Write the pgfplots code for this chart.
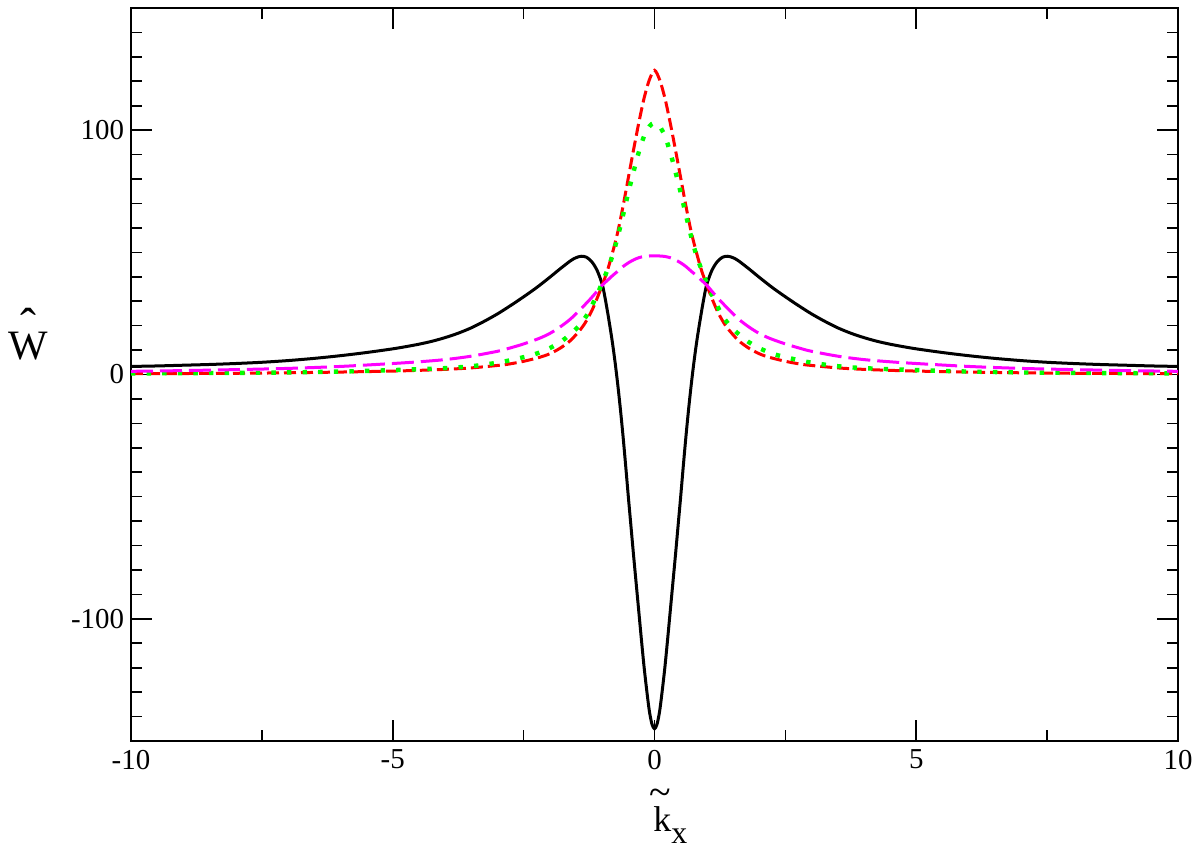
\documentclass[border=0pt]{standalone}
\usepackage{fontspec}
\setmainfont{Liberation Serif}
\usepackage{pgfplots}
\pgfplotsset{compat=1.18}
\definecolor{mag}{RGB}{255,0,255}
\definecolor{grn}{RGB}{0,255,0}
\definecolor{rd}{RGB}{255,0,0}
\begin{document}
\begin{tikzpicture}
\useasboundingbox (-65.5bp,-53.5bp) rectangle (534.5bp,370.5bp);
\begin{axis}[
  at={(0,0)}, anchor=south west,
  scale only axis, width=523.5bp, height=366.5bp,
  xmin=-10, xmax=10, ymin=-150, ymax=150,
  xtick={-10,-5,0,5,10}, xticklabels={-10,-5,0,5,10},
  ytick={-100,0,100}, yticklabels={-100,0,100},
  minor xtick={-7.5,-2.5,2.5,7.5},
  minor ytick={-140,-130,-120,-110,-90,-80,-70,-60,-50,-40,-30,-20,-10,10,20,30,40,50,60,70,80,90,110,120,130,140},
  tick align=inside,
  major tick length=10.5bp, minor tick length=5.3bp,
  every tick/.style={black, line width=0.8bp},
  axis line style={line width=1bp},
  tick label style={font=\fontsize{14.5}{17}\selectfont},
  xticklabel style={yshift=-1bp},
  every axis y label/.style={at={(axis description cs:-0.0984,0.5198)}, anchor=base, inner sep=0pt},
  every axis x label/.style={at={(axis description cs:0.4986,-0.1241)}, anchor=base west, inner sep=0pt},
  ylabel={\fontsize{21}{21}\selectfont\ooalign{\hidewidth\raisebox{9.3bp}{\fontsize{24}{24}\selectfont\symbol{"02C6}}\hidewidth\cr W\cr}},
  xlabel={\fontsize{18}{18}\selectfont\ooalign{\hidewidth\kern-2bp\raisebox{13.3bp}{\fontsize{20}{20}\selectfont\textasciitilde}\hidewidth\cr k\cr}\raisebox{-6bp}{\fontsize{16}{16}\selectfont x}},
  every axis plot/.append style={smooth, tension=0.5},
]
% black solid
\addplot[black, line width=1.5bp] coordinates {
(-10,3.3) (-9.5,3.5) (-9,3.8) (-8.5,4.1) (-8,4.5) (-7.5,5.0) (-7,5.7) (-6.5,6.6) (-6,7.7) (-5.5,9.0) (-5,10.5) (-4.75,11.4) (-4.5,12.4) (-4.25,13.6) (-4,15.1) (-3.75,16.9) (-3.5,19.1) (-3.25,21.8) (-3,24.8) (-2.75,28.2) (-2.5,31.8) (-2.25,35.6) (-2,39.8) (-1.8,43.3) (-1.6,46.6) (-1.5,47.8) (-1.4,48.4) (-1.3,48.0) (-1.2,46.2) (-1.1,42.8) (-1,37) (-0.95,32) (-0.9,26) (-0.85,19.5) (-0.8,12.5) (-0.75,4.5) (-0.7,-4.5) (-0.65,-14.5) (-0.6,-25.5) (-0.55,-37.5) (-0.5,-50) (-0.45,-62) (-0.4,-74) (-0.35,-85.5) (-0.3,-97) (-0.25,-108.5) (-0.2,-119.5) (-0.15,-129) (-0.1,-137.5) (-0.05,-143) (0,-145)
(0.05,-143) (0.1,-137.5) (0.15,-129) (0.2,-119.5) (0.25,-108.5) (0.3,-97) (0.35,-85.5) (0.4,-74) (0.45,-62) (0.5,-50) (0.55,-37.5) (0.6,-25.5) (0.65,-14.5) (0.7,-4.5) (0.75,4.5) (0.8,12.5) (0.85,19.5) (0.9,26) (0.95,32) (1,37) (1.1,42.8) (1.2,46.2) (1.3,48.0) (1.4,48.4) (1.5,47.8) (1.6,46.6) (1.8,43.3) (2,39.8) (2.25,35.6) (2.5,31.8) (2.75,28.2) (3,24.8) (3.25,21.8) (3.5,19.1) (3.75,16.9) (4,15.1) (4.25,13.6) (4.5,12.4) (4.75,11.4) (5,10.5) (5.5,9.0) (6,7.7) (6.5,6.6) (7,5.7) (7.5,5.0) (8,4.5) (8.5,4.1) (9,3.8) (9.5,3.5) (10,3.3)
};
% red dashed
\addplot[rd, line width=1.5bp, dash pattern=on 6bp off 2.5bp] coordinates {
(-10,0.35) (-9,0.4) (-8,0.5) (-7,0.7) (-6,1.0) (-5,1.4) (-4.5,1.7) (-4,2.1) (-3.5,2.7) (-3,3.7) (-2.8,4.2) (-2.5,5.4) (-2.2,7) (-2,8.5) (-1.8,10.8) (-1.6,14) (-1.4,18.8) (-1.3,22) (-1.2,26) (-1.1,31) (-1,36.5) (-0.9,42.5) (-0.8,50) (-0.7,58.5) (-0.6,69) (-0.5,80.5) (-0.4,92) (-0.3,103) (-0.2,113) (-0.1,120.5) (0,124.5)
(0.1,120.5) (0.2,113) (0.3,103) (0.4,92) (0.5,80.5) (0.6,69) (0.7,58.5) (0.8,50) (0.9,42.5) (1,36.5) (1.1,31) (1.2,26) (1.3,22) (1.4,18.8) (1.6,14) (1.8,10.8) (2,8.5) (2.2,7) (2.5,5.4) (2.8,4.2) (3,3.7) (3.5,2.7) (4,2.1) (4.5,1.7) (5,1.4) (6,1.0) (7,0.7) (8,0.5) (9,0.4) (10,0.35)
};
% green dotted
\addplot[grn, line width=2.2bp, dash pattern=on 2.2bp off 5.6bp] coordinates {
(-10,0.45) (-9,0.55) (-8,0.65) (-7,0.85) (-6,1.2) (-5,1.8) (-4,2.6) (-3.5,3.4) (-3.2,4.2) (-2.9,5.2) (-2.6,6.6) (-2.3,8.2) (-2,10.8) (-1.75,14) (-1.5,18.6) (-1.4,21) (-1.3,24) (-1.2,28) (-1.1,32.5) (-1,37.5) (-0.9,42.8) (-0.8,48.8) (-0.7,56.5) (-0.6,65.3) (-0.5,74.5) (-0.4,83) (-0.3,91) (-0.2,97.5) (-0.1,101.5) (0,103)
(0.1,101.5) (0.2,97.5) (0.3,91) (0.4,83) (0.5,74.5) (0.6,65.3) (0.7,56.5) (0.8,48.8) (0.9,42.8) (1,37.5) (1.1,32.5) (1.2,28) (1.3,24) (1.4,21) (1.5,18.6) (1.75,14) (2,10.8) (2.3,8.2) (2.6,6.6) (2.9,5.2) (3.2,4.2) (3.5,3.4) (4,2.6) (5,1.8) (6,1.2) (7,0.85) (8,0.65) (9,0.55) (10,0.45)
};
% magenta long dashed
\addplot[mag, line width=1.5bp, dash pattern=on 11bp off 3.5bp] coordinates {
(-10,1.3) (-9,1.6) (-8,2.0) (-7,2.5) (-6,3.3) (-5,4.5) (-4.5,5.2) (-4,6.1) (-3.5,7.5) (-3,9.5) (-2.8,10.6) (-2.5,12.5) (-2.2,14.8) (-2,16.8) (-1.8,19.5) (-1.6,22.8) (-1.4,27) (-1.2,31.5) (-1,36.5) (-0.9,38.5) (-0.8,40.5) (-0.7,42.3) (-0.6,44.2) (-0.5,45.7) (-0.4,46.9) (-0.3,47.8) (-0.2,48.3) (-0.1,48.5) (0,48.5)
(0.1,48.5) (0.2,48.3) (0.3,47.8) (0.4,46.9) (0.5,45.7) (0.6,44.2) (0.7,42.3) (0.8,40.5) (0.9,38.5) (1,36.5) (1.2,31.5) (1.4,27) (1.6,22.8) (1.8,19.5) (2,16.8) (2.2,14.8) (2.5,12.5) (2.8,10.6) (3,9.5) (3.5,7.5) (4,6.1) (4.5,5.2) (5,4.5) (6,3.3) (7,2.5) (8,2.0) (9,1.6) (10,1.3)
};
\end{axis}
\end{tikzpicture}
\end{document}
